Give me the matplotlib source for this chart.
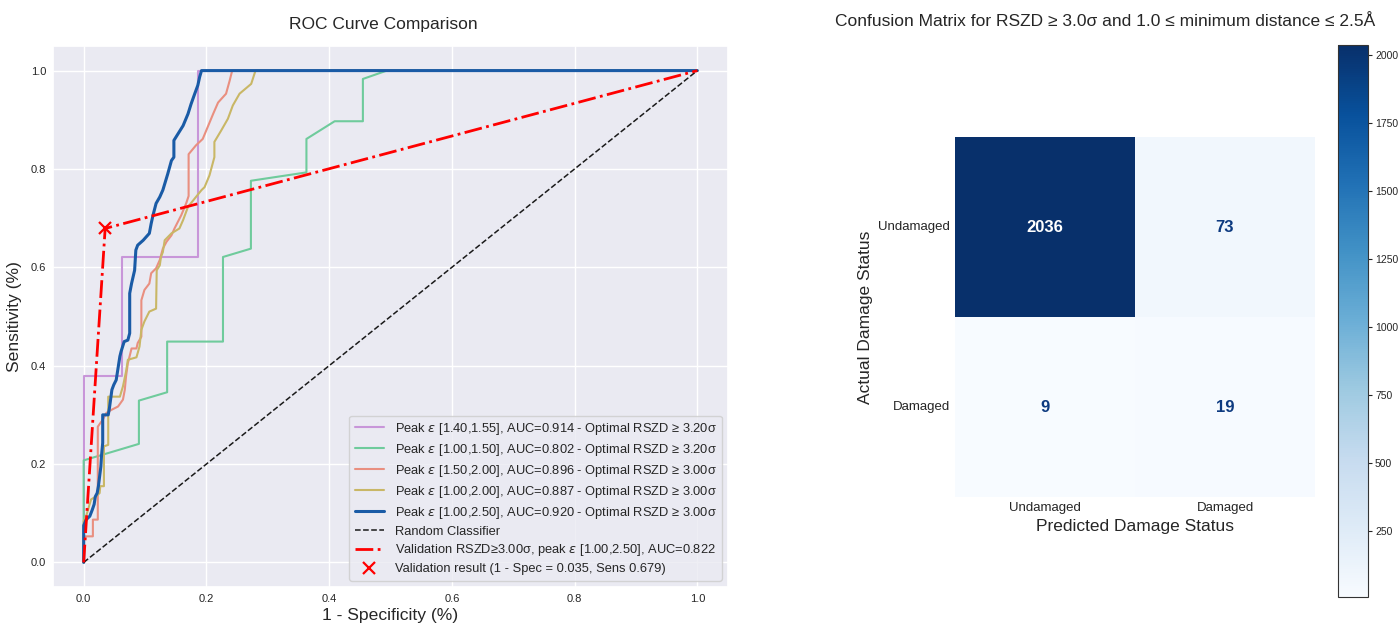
import matplotlib
matplotlib.use("Agg")
import matplotlib.pyplot as plt
import seaborn as sns
import numpy as np

# ---------------- data ----------------
fpr_a = [0.0, 0.0, 0.062, 0.062, 0.187, 0.187, 1.0]
tpr_a = [0.0, 0.379, 0.379, 0.621, 0.621, 1.0, 1.0]

fpr_b = [0.0, 0.0, 0.090, 0.090, 0.136, 0.136, 0.227, 0.227, 0.2725, 0.2725, 0.363, 0.363,
         0.409, 0.455, 0.455, 0.494, 1.0]
tpr_b = [0.0, 0.2075, 0.241, 0.329, 0.346, 0.449, 0.449, 0.621, 0.638, 0.776, 0.793, 0.861,
         0.897, 0.897, 0.983, 1.0, 1.0]

fpr_c = [0.0, 0.0, 0.015, 0.015, 0.023, 0.023, 0.031, 0.037, 0.045, 0.056, 0.064, 0.067,
         0.069, 0.072, 0.078, 0.086, 0.088, 0.094, 0.094, 0.099, 0.107, 0.110, 0.118, 0.124,
         0.129, 0.135, 0.143, 0.148, 0.159, 0.167, 0.171, 0.171, 0.183, 0.194, 0.202, 0.211,
         0.219, 0.232, 0.238, 0.242, 1.0]
tpr_c = [0.0, 0.053, 0.053, 0.087, 0.087, 0.276, 0.290, 0.304, 0.310, 0.317, 0.331, 0.351,
         0.378, 0.405, 0.435, 0.435, 0.446, 0.459, 0.533, 0.554, 0.567, 0.588, 0.598, 0.615,
         0.638, 0.652, 0.665, 0.679, 0.706, 0.730, 0.745, 0.830, 0.848, 0.861, 0.885, 0.912,
         0.935, 0.953, 0.980, 1.0, 1.0]

fpr_d = [0.0, 0.0, 0.004, 0.012, 0.020, 0.026, 0.027, 0.033, 0.033, 0.040, 0.040, 0.059,
         0.064, 0.069, 0.072, 0.086, 0.091, 0.094, 0.099, 0.107, 0.118, 0.119, 0.124, 0.126,
         0.129, 0.132, 0.143, 0.156, 0.162, 0.170, 0.181, 0.192, 0.197, 0.205, 0.213, 0.213,
         0.224, 0.235, 0.243, 0.254, 0.273, 0.280, 1.0]
tpr_d = [0.0, 0.084, 0.094, 0.128, 0.134, 0.141, 0.155, 0.155, 0.236, 0.239, 0.337, 0.337,
         0.358, 0.388, 0.412, 0.417, 0.439, 0.473, 0.490, 0.510, 0.516, 0.594, 0.604, 0.621,
         0.631, 0.655, 0.669, 0.679, 0.696, 0.723, 0.740, 0.757, 0.763, 0.787, 0.824, 0.855,
         0.878, 0.902, 0.929, 0.953, 0.973, 1.0, 1.0]

fpr_e = [0.0, 0.0, 0.004, 0.010, 0.014, 0.017, 0.019, 0.022, 0.024, 0.026, 0.028, 0.029,
         0.031, 0.031, 0.040, 0.042, 0.046, 0.049, 0.053, 0.056, 0.059, 0.061, 0.066, 0.072,
         0.075, 0.075, 0.078, 0.083, 0.085, 0.088, 0.097, 0.107, 0.110, 0.113, 0.118, 0.124,
         0.129, 0.137, 0.143, 0.147, 0.147, 0.154, 0.162, 0.170, 0.175, 0.181, 0.186, 0.189,
         0.192, 1.0]
tpr_e = [0.0, 0.075, 0.087, 0.094, 0.107, 0.118, 0.134, 0.141, 0.155, 0.175, 0.195, 0.216,
         0.243, 0.300, 0.300, 0.314, 0.351, 0.361, 0.371, 0.395, 0.419, 0.429, 0.449, 0.452,
         0.466, 0.547, 0.567, 0.594, 0.635, 0.645, 0.655, 0.669, 0.689, 0.706, 0.730, 0.743,
         0.757, 0.790, 0.817, 0.824, 0.858, 0.872, 0.888, 0.912, 0.932, 0.953, 0.970, 0.987,
         1.0, 1.0]

roc_labels = [
    "Peak $\\varepsilon$ [1.40,1.55], AUC=0.914 - Optimal RSZD ≥ 3.20σ",
    "Peak $\\varepsilon$ [1.00,1.50], AUC=0.802 - Optimal RSZD ≥ 3.20σ",
    "Peak $\\varepsilon$ [1.50,2.00], AUC=0.896 - Optimal RSZD ≥ 3.00σ",
    "Peak $\\varepsilon$ [1.00,2.00], AUC=0.887 - Optimal RSZD ≥ 3.00σ",
    "Peak $\\varepsilon$ [1.00,2.50], AUC=0.920 - Optimal RSZD ≥ 3.00σ",
]
val_fpr = [0.0, 0.035, 1.0]
val_tpr = [0.0, 0.679, 1.0]
val_point = (0.035, 0.679)

cm_values = [[2036, 73], [9, 19]]
cm_labels = ["Undamaged", "Damaged"]

# ---------------- styling ----------------
sns.set_theme(style="darkgrid")
plt.rcParams['font.family'] = ['Liberation Sans', 'DejaVu Sans']
plt.rcParams['mathtext.fontset'] = 'dejavusans'

fig = plt.figure(figsize=(13.99, 6.24), dpi=100)
W, H = 1399, 624

def pos(l, t, r, b):
    return [l / W, 1 - b / H, (r - l) / W, (b - t) / H]

ax = fig.add_axes(pos(53, 46, 728, 587))
colors = ["#c896d9", "#6fcb9c", "#e98f80", "#c9b766", "#1a5ba6"]
lws = [1.5, 1.5, 1.5, 1.5, 2.2]
curves = [(fpr_a, tpr_a), (fpr_b, tpr_b), (fpr_c, tpr_c), (fpr_d, tpr_d), (fpr_e, tpr_e)]
for (fx, ty), c, lw, lab in zip(curves, colors, lws, roc_labels):
    ax.plot(fx, ty, color=c, lw=lw, label=lab)
ax.plot([0, 1], [0, 1], 'k--', lw=1.1, label="Random Classifier")
ax.plot(val_fpr, val_tpr, color="red", ls="-.", lw=2,
        label="Validation RSZD≥3.00σ, peak $\\varepsilon$ [1.00,2.50], AUC=0.822")
ax.plot([val_point[0]], [val_point[1]], ls="none", marker="x", color="red", ms=9, mew=1.6,
        label="Validation result (1 - Spec = 0.035, Sens 0.679)")
ax.set_title("ROC Curve Comparison", fontsize=12.5, pad=12, x=0.49)
ax.set_xlabel("1 - Specificity (%)", fontsize=12.6, labelpad=3)
ax.set_ylabel("Sensitivity (%)", fontsize=12.6, labelpad=6)
ax.tick_params(labelsize=8, pad=5, length=0)
ax.set_xticks(np.arange(0, 1.01, 0.2))
ax.set_yticks(np.arange(0, 1.01, 0.2))
ax.legend(loc="lower right", fontsize=9.3, frameon=True, handlelength=2.3,
          labelspacing=0.38)

# ---------------- confusion matrix ----------------
hax = fig.add_axes(pos(955, 137, 1315, 497))
cax = fig.add_axes(pos(1338, 45, 1368, 597))
cm = np.array(cm_values)
sns.heatmap(cm, annot=True, fmt="d", cmap="Blues", ax=hax, cbar_ax=cax,
            annot_kws={"fontsize": 12, "fontweight": "bold"},
            xticklabels=cm_labels, yticklabels=cm_labels)
for t in hax.texts:
    t.set_color("white" if t.get_text() == "2036" else "#0d3a80")
hax.set_xlabel("Predicted Damage Status", fontsize=12.5)
hax.set_ylabel("Actual Damage Status", fontsize=12.5)
hax.tick_params(labelsize=9.5, length=0)
hax.set_yticklabels(cm_labels, rotation=0)
fig.text(1105 / W, 1 - 21 / H,
         "Confusion Matrix for RSZD ≥ 3.0σ and 1.0 ≤ minimum distance ≤ 2.5Å",
         fontsize=12.5, ha="center", va="center", color=".15")
cax.tick_params(labelsize=7.5, length=3, width=0.8, colors=".15", pad=2)
cax.set_yticks([250, 500, 750, 1000, 1250, 1500, 1750, 2000])
cbar = hax.collections[0].colorbar
cbar.outline.set_visible(True)
cbar.outline.set_edgecolor(".2")
cbar.outline.set_linewidth(0.8)

fig.savefig("out.png", dpi=100)
